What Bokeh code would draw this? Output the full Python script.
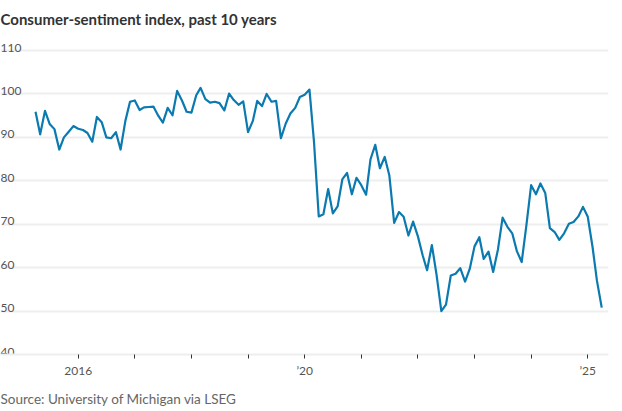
import pandas as pd
from bokeh.plotting import figure
from bokeh.models import Range1d, FixedTicker, Title, ColumnDataSource
from bokeh.core.properties import value
from bokeh.embed import file_html
from bokeh.resources import INLINE

# Monthly University of Michigan consumer-sentiment index, Apr 2015 - Apr 2025
start_month = "2015-04-01"
sentiment = [
    95.9, 90.7, 96.1, 93.1, 91.9, 87.2, 90.0, 91.3, 92.6,                      # 2015 Apr-Dec
    92.0, 91.7, 91.0, 89.0, 94.7, 93.5, 90.0, 89.8, 91.2, 87.2, 93.8, 98.2,    # 2016
    98.5, 96.3, 96.9, 97.0, 97.1, 95.0, 93.4, 96.8, 95.1, 100.7, 98.5, 95.9,   # 2017
    95.7, 99.7, 101.4, 98.8, 98.0, 98.2, 97.9, 96.2, 100.1, 98.6, 97.5, 98.3,  # 2018
    91.2, 93.8, 98.4, 97.2, 100.0, 98.2, 98.4, 89.8, 93.2, 95.5, 96.8, 99.3,   # 2019
    99.8, 101.0, 89.1, 71.8, 72.3, 78.1, 72.5, 74.1, 80.4, 81.8, 76.9, 80.7,   # 2020
    79.0, 76.8, 84.9, 88.3, 82.9, 85.5, 81.2, 70.3, 72.8, 71.7, 67.4, 70.6,    # 2021
    67.2, 62.8, 59.4, 65.2, 58.4, 50.0, 51.5, 58.2, 58.6, 59.9, 56.8, 59.7,    # 2022
    64.9, 67.0, 62.0, 63.7, 59.0, 64.2, 71.5, 69.4, 67.9, 63.8, 61.3, 69.7,    # 2023
    79.0, 76.9, 79.4, 77.2, 69.1, 68.2, 66.4, 67.9, 70.1, 70.5, 71.8, 74.0,    # 2024
    71.7, 64.7, 57.0, 50.8,                                                    # 2025 Jan-Apr
]
y_ticks = [40, 50, 60, 70, 80, 90, 100, 110]
y_tick_labels = ["40", "50", "60", "70", "80", "90", "100", "110"]
x_ticks = [2016, 2017, 2018, 2019, 2020, 2021, 2022, 2023, 2024, 2025]
x_tick_labels = ["2016", "", "", "", "\u201920", "", "", "", "", "\u201925"]

title_text = "Consumer-sentiment index, past 10 years"
source_text = "Source: University of Michigan via LSEG"

dates = pd.date_range(start_month, periods=len(sentiment), freq="MS")
xdec = [d.year + (d.dayofyear - 1) / (366 if d.is_leap_year else 365) for d in dates]
src = ColumnDataSource(data=dict(x=xdec, y=sentiment))

FONT = "Lato"
p = figure(frame_width=608, frame_height=317, output_backend="svg", toolbar_location=None,
           x_range=Range1d(2014.628, 2025.366), y_range=Range1d(40, 113),
           y_axis_location=None,
           min_border_left=0, min_border_right=6, min_border_top=37, min_border_bottom=0)
p.outline_line_color = None
p.background_fill_color = "white"
p.border_fill_color = "white"

p.title.text = title_text
p.title.text_font = FONT
p.title.text_font_size = "15px"
p.title.text_font_style = "bold"
p.title.text_color = "#333333"
p.title.align = "left"
p.title.vertical_align = "top"
p.title.text_line_height = 0.8
p.title.offset = 0
p.title.standoff = 15

p.xgrid.visible = False
p.ygrid.ticker = FixedTicker(ticks=y_ticks)
p.ygrid.grid_line_color = "#eeeeee"
p.ygrid.grid_line_width = 2

ax = p.xaxis[0]
ax.ticker = FixedTicker(ticks=x_ticks)
ax.major_label_overrides = {t: l for t, l in zip(x_ticks, x_tick_labels)}
ax.axis_line_color = "#eeeeee"
ax.axis_line_width = 2
ax.major_tick_in = 0
ax.major_tick_out = 4
ax.major_tick_line_color = "#333333"
ax.major_tick_line_width = 1
ax.minor_tick_line_color = None
ax.major_label_text_font = FONT
ax.major_label_text_font_size = "12px"
ax.major_label_text_color = "#555555"
ax.major_label_standoff = 4

p.text(x=[p.x_range.start] * len(y_ticks), y=y_ticks, text=y_tick_labels,
       text_font=value(FONT), text_font_size="12px", text_color="#555555",
       text_align="left", text_baseline="alphabetic", y_offset=-3)

p.line("x", "y", source=src, line_color="#0a7ab0", line_width=2.2, line_join="round")

st = Title(text=source_text, text_font=FONT, text_font_size="13.5px",
           text_font_style="normal", text_color="#666666", align="left", offset=0, standoff=17)
p.add_layout(st, "below")

open("out.html", "w").write(file_html(p, INLINE))
